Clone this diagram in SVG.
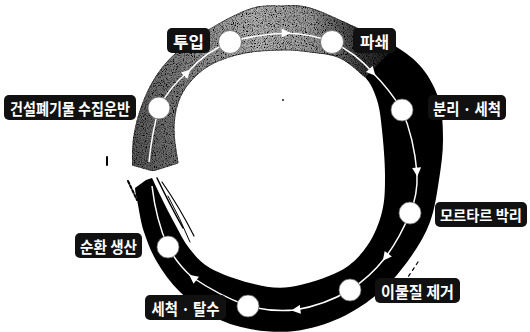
<svg xmlns="http://www.w3.org/2000/svg" width="530" height="332" viewBox="0 0 530 332">
<style>
.lbl rect{fill:#111}
.lbl text{fill:#fff;font-family:"Noto Sans CJK KR","Noto Sans",sans-serif;font-weight:700;font-size:16px;text-anchor:middle;dominant-baseline:central}
.nd{fill:#fff;stroke:#666;stroke-width:0.8}
.flow{fill:none;stroke:#fff;stroke-width:1.5;marker-mid:url(#ah)}
.flow0{fill:none;stroke:#fff;stroke-width:1.5}
.streak{fill:none;stroke:#000;stroke-linecap:round}
</style>
<defs>
<marker id="ah" viewBox="0 0 10 10" refX="6" refY="5" markerWidth="11" markerHeight="9" markerUnits="userSpaceOnUse" orient="auto">
<path d="M0,0 L10,5 L0,10 Z" fill="#fff"/>
</marker>
<linearGradient id="gg" gradientUnits="userSpaceOnUse" x1="130" y1="100" x2="400" y2="60">
<stop offset="0" stop-color="#5e5e5e"/>
<stop offset="0.25" stop-color="#8c8c8c"/>
<stop offset="0.5" stop-color="#b8b8b8"/>
<stop offset="0.7" stop-color="#9c9c9c"/>
<stop offset="0.86" stop-color="#3c3c3c"/>
<stop offset="1" stop-color="#111"/>
</linearGradient>
<filter id="grain" x="0" y="0" width="1" height="1">
<feTurbulence type="fractalNoise" baseFrequency="0.9" numOctaves="2" seed="4" result="n"/>
<feColorMatrix in="n" type="matrix" values="0 0 0 0 0  0 0 0 0 0  0 0 0 0 0  3 0 0 0 -1.2" result="d"/>
<feComposite in="d" in2="SourceGraphic" operator="in" result="dc"/>
<feMerge><feMergeNode in="SourceGraphic"/><feMergeNode in="dc"/></feMerge>
</filter>
</defs>

<g id="ring">
<path id="ring-black" fill="#000" d="M310,8 C321.2,11.7 342.8,21.7 357,28 C371.2,34.3 384.2,39.3 395,46 C405.8,52.7 414.7,59 422,68 C429.3,77 435.5,88 439,100 C442.5,112 443,126.7 443,140 C443,153.3 441.2,166.3 439,180 C436.8,193.7 434.8,209 430,222 C425.2,235 418.3,246.3 410,258 C401.7,269.7 391.7,282 380,292 C368.3,302 354.2,311.5 340,318 C325.8,324.5 310,329.2 295,331 C280,332.8 263.8,331.5 250,329 C236.2,326.5 223.7,322.2 212,316 C200.3,309.8 189.2,301 180,292 C170.8,283 163,272 157,262 C151,252 147.2,241.5 144,232 C140.8,222.5 139.5,212.3 138,205 C137,198 135,193 135,188 L146,180 L152,178 C154.2,182.5 161,197 165,205 C169,213 172,218.8 176,226 C180,233.2 183.3,241 189,248 C194.7,255 199.8,262.2 210,268 C220.2,273.8 236.7,279.8 250,283 C263.3,286.2 275,289 290,287 C305,285 327.2,277.8 340,271 C352.8,264.2 360,255.8 367,246 C374,236.2 379,223.8 382,212 C385,200.2 385,188.7 385,175 C385,161.3 383.3,142.5 382,130 C380.7,117.5 379.8,108.8 377,100 C374.2,91.2 371.2,84 365,77 C358.8,70 349.2,62.2 340,58 C330.8,53.8 319.5,53.3 310,52 Z"/>
<path id="ring-gray" fill="url(#gg)" stroke="#333" stroke-width="0.8" filter="url(#grain)" d="M132,165 C132.3,160 132.3,145 134,135 C135.7,125 138.5,114.5 142,105 C145.5,95.5 149.5,86.5 155,78 C160.5,69.5 165.8,62.2 175,54 C184.2,45.8 197.5,36.5 210,29 C222.5,21.5 238.3,12.8 250,9 C261.7,5.2 270,5.8 280,6 C290,5.8 297.2,4.3 310,8 C322.8,11.7 342.8,21.7 357,28 C371.2,34.3 388.7,43 395,46 L365,77 C360.8,73.8 349.2,62.2 340,58 C330.8,53.8 319.5,53.3 310,52 C300.5,50.7 293.8,49.8 283,50 C272.2,50.2 256.8,50.7 245,53 C233.2,55.3 221.2,59.2 212,64 C202.8,68.8 195.7,75.5 190,82 C184.3,88.5 180.7,95 178,103 C175.3,111 174,120 174,130 C174,140 177.3,157.5 178,163 L153,171 Z"/>
<path class="streak" stroke-width="2" stroke-dasharray="3 2" d="M128,181 L137,200"/>
<path class="streak" stroke-width="1.5" d="M157,178 Q170,205 183,228"/>
<path class="streak" stroke-width="1.2" d="M162,182 Q180,208 194,236"/>
<path class="streak" stroke-width="1" d="M168,196 Q180,218 190,242"/>
<path class="streak" stroke-width="1.5" stroke-dasharray="4 3" d="M438,128 L438,158"/>
<path class="streak" stroke-width="1.2" stroke-dasharray="3 4" d="M418,262 L406,280"/>
<path class="streak" stroke-width="2" d="M107,157 L107,165"/>
<circle cx="283" cy="100" r="0.9" fill="#000"/>
</g>

<g id="connectors">
<path class="flow0" d="M149,162 Q152,132 159,108"/>
<path class="flow" d="M159,108 Q170,86 188,72 Q205,52 230,42"/>
<path class="flow" d="M230,42 Q258,34 287,33 Q312,34 332,42"/>
<path class="flow" d="M332,42 Q356,53 373,73 Q390,90 402,110"/>
<path class="flow" d="M402,110 Q414,138 417,173 Q418,195 410,213"/>
<path class="flow" d="M410,213 Q400,238 385,258 Q370,277 350,290"/>
<path class="flow" d="M350,290 Q325,305 295,310 Q270,312 248,306"/>
<path class="flow" d="M248,306 Q218,295 192,277 Q178,265 168,247"/>
<path class="flow0" d="M168,247 Q156,220 152,186"/>
</g>

<g id="node-collect" class="lbl">
<circle class="nd" cx="159" cy="108" r="11"/>
<rect x="4" y="95" width="132" height="25" rx="5"/>
<text x="70" y="107.5" textLength="120" lengthAdjust="spacingAndGlyphs">건설폐기물 수집운반</text>
</g>
<g id="node-input" class="lbl">
<circle class="nd" cx="230" cy="42" r="11.5"/>
<rect x="167" y="28" width="43" height="25" rx="5"/>
<text x="188.5" y="40.5" textLength="31" lengthAdjust="spacingAndGlyphs">투입</text>
</g>
<g id="node-crush" class="lbl">
<circle class="nd" cx="332" cy="42" r="11.5"/>
<rect x="353" y="28" width="43" height="25" rx="5"/>
<text x="374.5" y="40.5" textLength="29" lengthAdjust="spacingAndGlyphs">파쇄</text>
</g>
<g id="node-separate" class="lbl">
<circle class="nd" cx="402" cy="110" r="11"/>
<rect x="428" y="95" width="78" height="25" rx="5"/>
<text x="467" y="107.5" textLength="68" lengthAdjust="spacingAndGlyphs">분리 · 세척</text>
</g>
<g id="node-mortar" class="lbl">
<circle class="nd" cx="410" cy="213" r="11"/>
<rect x="435" y="202" width="92" height="25" rx="5"/>
<text x="481" y="214.5" style="font-size:15px" textLength="82" lengthAdjust="spacingAndGlyphs">모르타르 박리</text>
</g>
<g id="node-foreign" class="lbl">
<circle class="nd" cx="350" cy="290" r="11"/>
<rect x="375" y="278" width="85" height="25" rx="5"/>
<text x="417.5" y="290.5" textLength="73" lengthAdjust="spacingAndGlyphs">이물질 제거</text>
</g>
<g id="node-wash" class="lbl">
<circle class="nd" cx="248" cy="306" r="11"/>
<rect x="145" y="295" width="81" height="25" rx="5"/>
<text x="185.5" y="307.5" textLength="68" lengthAdjust="spacingAndGlyphs">세척 · 탈수</text>
</g>
<g id="node-recycle" class="lbl">
<circle class="nd" cx="168" cy="247" r="11"/>
<rect x="75" y="233" width="67" height="25" rx="5"/>
<text x="108.5" y="245.5" textLength="57" lengthAdjust="spacingAndGlyphs">순환 생산</text>
</g>
</svg>
